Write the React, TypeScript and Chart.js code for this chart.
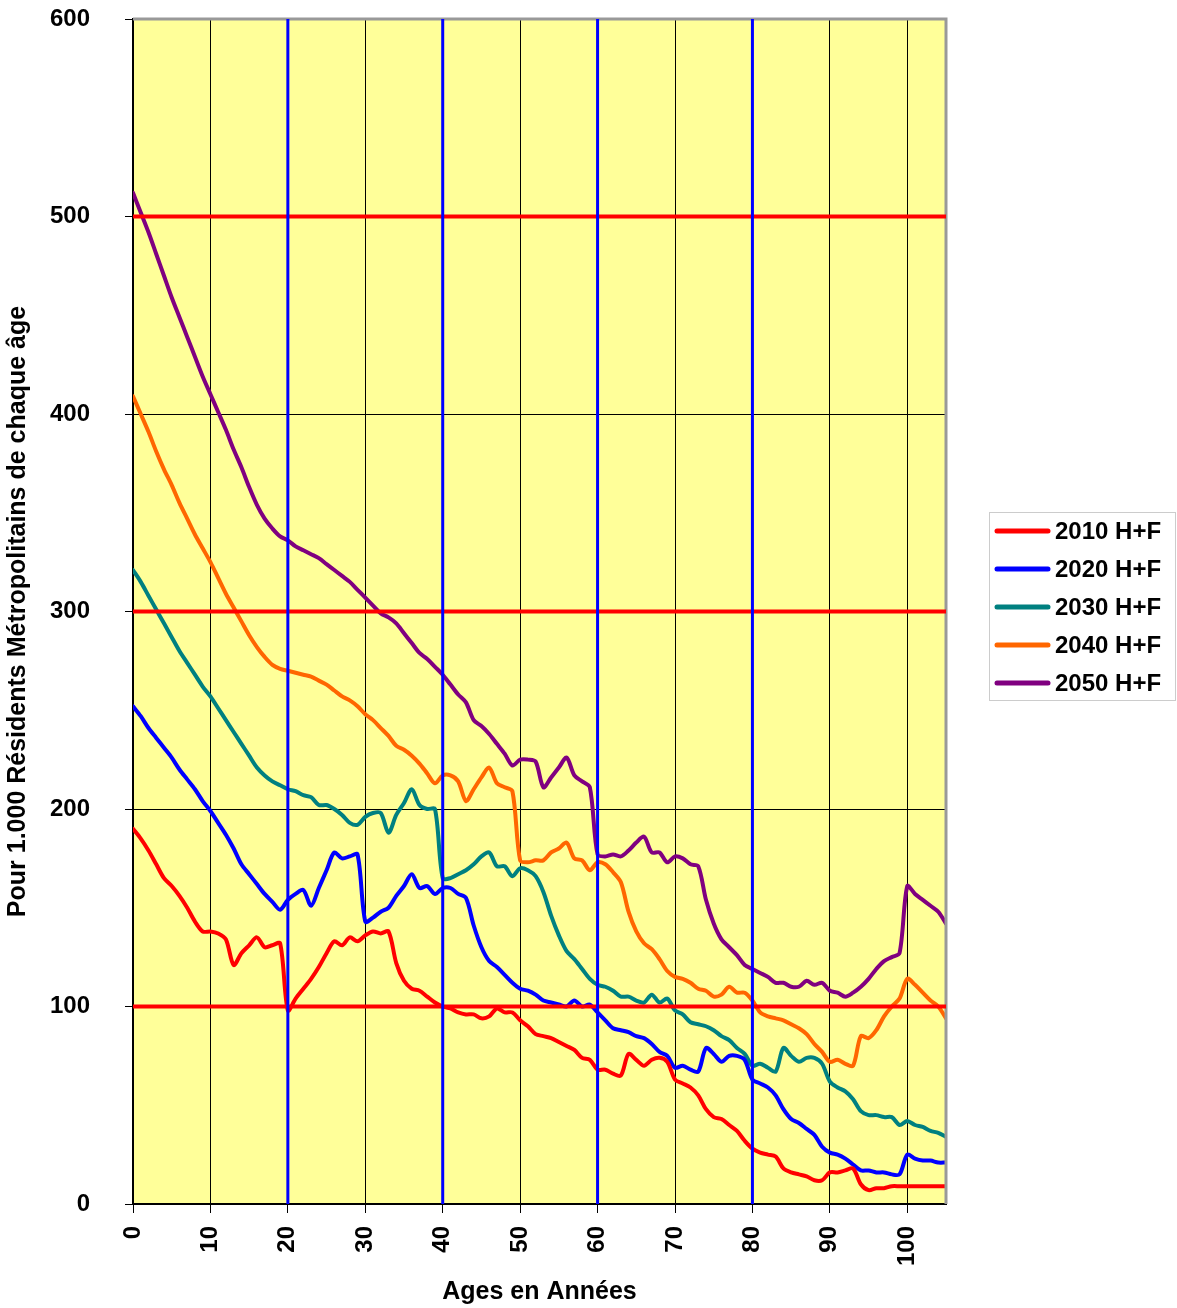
import React, { useEffect, useRef } from "react";
import { Chart, registerables } from "chart.js";

Chart.register(...registerables);

const ages = [
  0, 1, 2, 3, 4, 5, 6, 7, 8, 9, 10, 11, 12, 13, 14, 15, 16, 17, 18, 19,
  20, 21, 22, 23, 24, 25, 26, 27, 28, 29, 30, 31, 32, 33, 34, 35, 36, 37, 38, 39,
  40, 41, 42, 43, 44, 45, 46, 47, 48, 49, 50, 51, 52, 53, 54, 55, 56, 57, 58, 59,
  60, 61, 62, 63, 64, 65, 66, 67, 68, 69, 70, 71, 72, 73, 74, 75, 76, 77, 78, 79,
  80, 81, 82, 83, 84, 85, 86, 87, 88, 89, 90, 91, 92, 93, 94, 95, 96, 97, 98, 99,
  100, 101, 102, 103, 104, 105,
];

const seriesNames = ["2010 H+F", "2020 H+F", "2030 H+F", "2040 H+F", "2050 H+F"];
const seriesColors = ["#FF0000", "#0000FF", "#008080", "#FF6600", "#800080"];

const y2010 = [
  190, 185, 179, 172, 165, 161, 156, 150, 143, 138,
  138, 137, 134, 121, 127, 131, 135, 130, 131, 132,
  98, 104, 109, 114, 120, 127, 133, 131, 135, 133,
  136, 138, 137, 138, 122, 113, 109, 108, 105, 102,
  100, 99, 97, 96, 96, 94, 95, 99, 97, 97,
  93, 90, 86, 85, 84, 82, 80, 78, 74, 73,
  68, 68, 66, 65, 76, 73, 70, 73, 74, 72,
  63, 61, 59, 55, 48, 44, 43, 40, 37, 32,
  28, 26, 25, 24, 18, 16, 15, 14, 12, 12,
  16, 16, 17, 18, 10, 7, 8, 8, 9, 9,
  9, 9, 9, 9, 9, 9,
];

const y2020 = [
  252, 247, 241, 236, 231, 226, 220, 215, 210, 204,
  199, 193, 187, 180, 172, 167, 162, 157, 153, 149,
  154, 157, 159, 151, 160, 169, 178, 175, 176, 177,
  143, 145, 148, 150, 156, 161, 167, 160, 161, 157,
  160, 160, 157, 155, 141, 130, 123, 120, 116, 112,
  109, 108, 106, 103, 102, 101, 100, 103, 100, 101,
  97, 93, 89, 88, 87, 85, 84, 81, 77, 75,
  69, 70, 68, 67, 79, 76, 72, 75, 75, 73,
  63, 61, 59, 55, 48, 43, 41, 38, 35, 29,
  26, 25, 23, 20, 17, 17, 16, 16, 15, 15,
  25, 23, 22, 22, 21, 21,
];

const y2030 = [
  321, 315, 308, 301, 294, 287, 280, 274, 268, 262,
  257, 251, 245, 239, 233, 227, 221, 217, 214, 212,
  210, 209, 207, 206, 202, 202, 200, 197, 193, 192,
  196, 198, 198, 188, 197, 203, 210, 202, 200, 200,
  165, 165, 167, 169, 172, 176, 178, 171, 171, 166,
  170, 169, 166, 158, 146, 136, 128, 124, 119, 114,
  111, 110, 108, 105, 105, 103, 102, 106, 102, 104,
  98, 96, 92, 91, 90, 88, 85, 83, 79, 76,
  70, 71, 69, 67, 79, 75, 72, 74, 74, 71,
  62, 59, 57, 53, 47, 45, 45, 44, 44, 40,
  42, 40, 39, 37, 36, 34,
];

const y2040 = [
  409, 400, 391, 381, 372, 364, 355, 347, 339, 332,
  325, 317, 309, 302, 295, 288, 282, 277, 273, 271,
  270, 269, 268, 267, 265, 263, 260, 257, 255, 252,
  248, 245, 241, 237, 232, 230, 227, 223, 218, 213,
  217, 217, 214, 204, 210, 216, 221, 213, 211, 209,
  174, 173, 174, 174, 178, 180, 183, 175, 174, 169,
  173, 172, 168, 163, 148, 138, 132, 129, 124, 118,
  115, 114, 112, 109, 108, 105, 106, 110, 107, 107,
  103, 97, 95, 94, 93, 91, 89, 86, 81, 77,
  72, 73, 71, 70, 85, 84, 88, 95, 100, 104,
  114, 111, 107, 103, 100, 94,
];

const y2050 = [
  512, 502, 492, 481, 470, 459, 449, 439, 429, 419,
  410, 401, 392, 382, 373, 363, 354, 347, 342, 338,
  336, 333, 331, 329, 327, 324, 321, 318, 315, 311,
  307, 303, 299, 297, 294, 289, 284, 279, 276, 272,
  268, 263, 258, 254, 245, 242, 238, 233, 228, 222,
  225, 225, 224, 211, 216, 221, 226, 217, 214, 211,
  177, 176, 177, 176, 179, 183, 186, 178, 178, 173,
  176, 175, 172, 171, 154, 142, 134, 130, 126, 121,
  119, 117, 115, 112, 112, 110, 110, 113, 111, 112,
  108, 107, 105, 107, 110, 114, 119, 123, 125, 127,
  161, 157, 154, 151, 148, 142,
];

const seriesValues = [y2010, y2020, y2030, y2040, y2050];

const refLinesY = [100, 300, 500];
const refLinesX = [20, 40, 60, 80];

const xTitle = "Ages en Années";
const yTitle = "Pour 1.000 Résidents Métropolitains de chaque âge";

const FONT = "'Liberation Sans', Arial, sans-serif";

export default function App() {
  const canvasRef = useRef<HTMLCanvasElement | null>(null);

  useEffect(() => {
    const canvas = canvasRef.current;
    if (!canvas) return;

    const bgPlugin = {
      id: "bgPlugin",
      beforeDraw(chart: any) {
        const { ctx, chartArea: a } = chart;
        ctx.save();
        ctx.fillStyle = "#FFFFFF";
        ctx.fillRect(0, 0, chart.width, chart.height);
        ctx.fillStyle = "#FFFF99";
        ctx.fillRect(a.left, a.top, a.right - a.left, a.bottom - a.top);
        ctx.restore();
      },
    };

    const refPlugin = {
      id: "refPlugin",
      afterDatasetsDraw(chart: any) {
        const { ctx, chartArea: a, scales } = chart;
        const xs = scales.x;
        const ys = scales.y;
        ctx.save();
        ctx.strokeStyle = "#999999";
        ctx.lineWidth = 3;
        ctx.beginPath();
        ctx.moveTo(a.left, a.top);
        ctx.lineTo(a.right, a.top);
        ctx.lineTo(a.right, a.bottom);
        ctx.stroke();
        ctx.strokeStyle = "#FF0000";
        ctx.lineWidth = 4;
        refLinesY.forEach((v) => {
          const y = ys.getPixelForValue(v);
          ctx.beginPath();
          ctx.moveTo(a.left, y);
          ctx.lineTo(a.right, y);
          ctx.stroke();
        });
        ctx.strokeStyle = "#0000FF";
        ctx.lineWidth = 3;
        refLinesX.forEach((v) => {
          const x = xs.getPixelForValue(v);
          ctx.beginPath();
          ctx.moveTo(x, a.top);
          ctx.lineTo(x, a.bottom);
          ctx.stroke();
        });
        ctx.restore();
      },
      afterDraw(chart: any) {
        const { ctx } = chart;
        ctx.save();
        const bx = 989, by = 512, bw = 187, bh = 189;
        ctx.fillStyle = "#FFFFFF";
        ctx.fillRect(bx, by, bw, bh);
        ctx.strokeStyle = "#CCCCCC";
        ctx.lineWidth = 1;
        ctx.strokeRect(bx + 0.5, by + 0.5, bw - 1, bh - 1);
        ctx.font = `bold 24px ${FONT}`;
        ctx.textBaseline = "middle";
        ctx.textAlign = "left";
        chart.data.datasets.forEach((ds: any, i: number) => {
          const y = by + 19 + i * 38;
          ctx.strokeStyle = ds.borderColor;
          ctx.lineWidth = 5;
          ctx.lineCap = "round";
          ctx.beginPath();
          ctx.moveTo(997, y);
          ctx.lineTo(1048, y);
          ctx.stroke();
          ctx.fillStyle = "#000000";
          ctx.fillText(ds.label, 1055, y + 1);
        });
        ctx.restore();
      },
    };

    const chart = new Chart(canvas, {
      type: "line",
      data: {
        labels: ages,
        datasets: seriesNames.map((name, i) => ({
          label: name,
          data: seriesValues[i],
          borderColor: seriesColors[i],
          backgroundColor: seriesColors[i],
          borderWidth: 4,
          pointRadius: 0,
          tension: 0.3,
          fill: false,
          borderCapStyle: "round",
          borderJoinStyle: "round",
        })),
      },
      options: {
        responsive: false,
        animation: false,
        events: [],
        layout: { padding: { left: 0, top: 19, right: 231, bottom: 0 } },
        plugins: {
          legend: { display: false },
          tooltip: { enabled: false },
        },
        scales: {
          x: {
            type: "linear",
            min: 0,
            max: 105,
            afterFit(scale: any) {
              scale.height = 104;
              scale.paddingLeft = 0;
              scale.paddingRight = 0;
            },
            ticks: {
              stepSize: 10,
              autoSkip: false,
              includeBounds: false,
              minRotation: 90,
              maxRotation: 90,
              padding: 13,
              color: "#000000",
              font: { family: FONT, size: 24, weight: "bold" },
            },
            grid: {
              color: "#000000",
              lineWidth: 1,
              tickLength: 9,
              tickColor: "#000000",
            },
            border: { color: "#000000", width: 2 },
            title: {
              display: true,
              text: xTitle,
              color: "#000000",
              font: { family: FONT, size: 25, weight: "bold" },
              padding: { top: 0, bottom: 1 },
            },
          },
          y: {
            type: "linear",
            min: 0,
            max: 600,
            afterFit(scale: any) {
              scale.width = 133;
              scale.paddingTop = 0;
              scale.paddingBottom = 0;
            },
            ticks: {
              stepSize: 100,
              padding: 35,
              color: "#000000",
              font: { family: FONT, size: 24, weight: "bold" },
            },
            grid: {
              color: "#000000",
              lineWidth: 1,
              tickLength: 8,
              tickColor: "#000000",
            },
            border: { color: "#000000", width: 2 },
            title: {
              display: true,
              text: yTitle,
              color: "#000000",
              font: { family: FONT, size: 25, weight: "bold" },
              padding: { top: 3, bottom: 0 },
            },
          },
        },
      },
      plugins: [bgPlugin, refPlugin],
    });

    return () => {
      chart.destroy();
    };
  }, []);

  return (
    <div style={{ position: "fixed", left: 0, top: 0, width: 1177, height: 1308, background: "#FFFFFF" }}>
      <canvas ref={canvasRef} width={1177} height={1308} style={{ width: 1177, height: 1308, display: "block" }} />
    </div>
  );
}
